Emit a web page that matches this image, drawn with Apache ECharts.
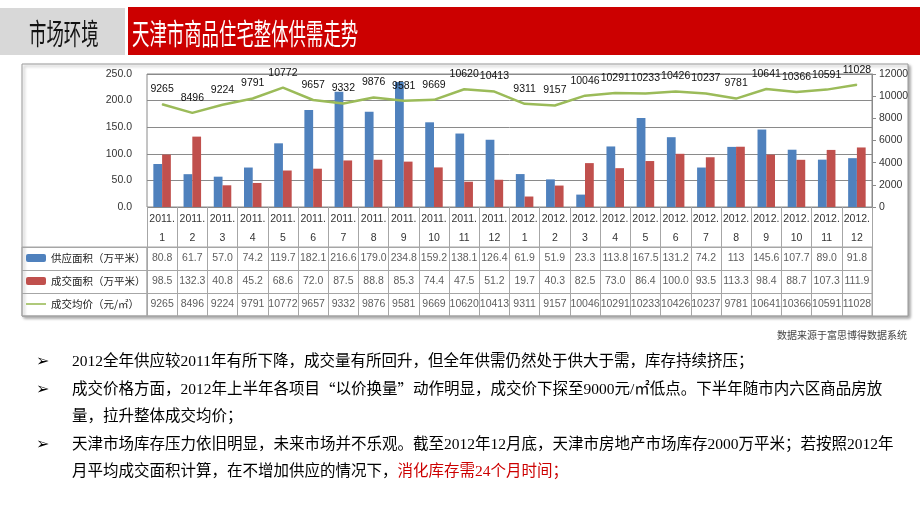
<!DOCTYPE html>
<html><head><meta charset="utf-8">
<script src="https://cdn.jsdelivr.net/npm/echarts@6/dist/echarts.min.js"></script>
<style>html,body{margin:0;padding:0;background:#fff}#c{width:920px;height:518px}</style>
</head><body><div id="c"></div>
<script>
// ---- data ----
const categories = ['2011.\n1','2011.\n2','2011.\n3','2011.\n4','2011.\n5','2011.\n6','2011.\n7','2011.\n8','2011.\n9','2011.\n10','2011.\n11','2011.\n12',
  '2012.\n1','2012.\n2','2012.\n3','2012.\n4','2012.\n5','2012.\n6','2012.\n7','2012.\n8','2012.\n9','2012.\n10','2012.\n11','2012.\n12'];
const supplyArea = ['80.8','61.7','57.0','74.2','119.7','182.1','216.6','179.0','234.8','159.2','138.1','126.4',
  '61.9','51.9','23.3','113.8','167.5','131.2','74.2','113','145.6','107.7','89.0','91.8'];
const dealArea = ['98.5','132.3','40.8','45.2','68.6','72.0','87.5','88.8','85.3','74.4','47.5','51.2',
  '19.7','40.3','82.5','73.0','86.4','100.0','93.5','113.3','98.4','88.7','107.3','111.9'];
const avgPrice = [9265,8496,9224,9791,10772,9657,9332,9876,9581,9669,10620,10413,
  9311,9157,10046,10291,10233,10426,10237,9781,10641,10366,10591,11028];
const seriesNames = ['供应面积（万平米）','成交面积（万平米）','成交均价（元/㎡）'];
const leftAxisMax = 250, leftAxisStep = 50;
const rightAxisMax = 12000, rightAxisStep = 2000;

// table cells built from the arrays
const tableRows = [supplyArea, dealArea, avgPrice];
const tableCells = [];
tableRows.forEach((row, r) => row.forEach((v, i) => tableCells.push([i, r, String(v)])));

const SANS = "'Liberation Sans',Arial,sans-serif";
const CJK = "'Noto Sans CJK SC','Liberation Sans',sans-serif";
const BODY = "'Liberation Serif','Noto Sans CJK SC',serif";
const GRIDC = '#8a8a8a', TABC = '#a6a6a6';
const FS = 10.5;

const chart = echarts.init(document.getElementById('c'));
const richBody = {
  r:{fill:'#cc0000', fontSize:15.5, fontFamily:BODY},
  q:{fill:'#000', fontSize:15.5, fontFamily:CJK}
};
const bodyLine = (text, y) => ({type:'text', x:72, y:y, silent:true,
  style:{text:text, fontSize:15.5, fontFamily:BODY, fill:'#000', textVerticalAlign:'middle', rich:richBody}});
const bullet = y => ({type:'text', x:36, y:y, silent:true,
  style:{text:'➢', fontSize:16, fontFamily:"'DejaVu Sans'", fill:'#000', textVerticalAlign:'middle'}});

chart.setOption({
  animation:false,
  textStyle:{fontFamily:SANS},
  legend:{orient:'vertical', left:26, top:251, itemGap:9, itemWidth:20, itemHeight:8, padding:0,
    selectedMode:false,
    data:[{name:seriesNames[0]}, {name:seriesNames[1]}, {name:seriesNames[2], icon:'path://M0,0H20V1.6H0Z'}],
    textStyle:{fontFamily:CJK, fontSize:10.5, color:'#222', lineHeight:14}},
  grid:[
    {left:147, right:48, top:74, height:133, show:true, borderColor:GRIDC, borderWidth:1},
    {left:147, right:48, top:247, height:69, show:true, borderColor:TABC, borderWidth:1},
    {left:22, width:125, top:247, height:69, show:true, borderColor:TABC, borderWidth:1}
  ],
  xAxis:[
    {type:'category', gridIndex:0, data:categories, axisLine:{show:false},
      axisTick:{show:true, length:40, interval:0, lineStyle:{color:TABC}},
      axisLabel:{interval:0, margin:3, fontSize:FS, lineHeight:19, color:'#333'}},
    {type:'category', gridIndex:1, data:categories, axisLine:{show:false}, axisTick:{show:false},
      axisLabel:{show:false}, splitLine:{show:true, interval:0, lineStyle:{color:TABC}}},
    {type:'value', gridIndex:2, show:false}
  ],
  yAxis:[
    {type:'value', gridIndex:0, min:0, max:leftAxisMax, interval:leftAxisStep,
      axisLabel:{formatter:v=>v.toFixed(1), margin:15, fontSize:FS, color:'#333'},
      splitLine:{lineStyle:{color:GRIDC}}, axisLine:{show:false}, axisTick:{show:false}},
    {type:'value', gridIndex:0, position:'right', min:0, max:rightAxisMax, interval:rightAxisStep,
      axisLine:{show:true, lineStyle:{color:GRIDC}}, axisTick:{show:true, length:4, lineStyle:{color:GRIDC}},
      axisLabel:{margin:7, fontSize:FS, color:'#333', formatter:v=>String(v)}, splitLine:{show:false}},
    {type:'category', gridIndex:1, data:['r0','r1','r2'], inverse:true, axisLine:{show:false},
      axisTick:{show:false}, axisLabel:{show:false}, splitLine:{show:true, lineStyle:{color:TABC}}},
    {type:'category', gridIndex:2, data:seriesNames, inverse:true, axisLine:{show:false},
      axisTick:{show:false}, axisLabel:{show:false}, splitLine:{show:true, lineStyle:{color:TABC}}}
  ],
  series:[
    {name:seriesNames[0], type:'bar', xAxisIndex:0, yAxisIndex:0, data:supplyArea.map(Number),
      barGap:'0%', barCategoryGap:'42%', itemStyle:{color:'#4F81BD'}},
    {name:seriesNames[1], type:'bar', xAxisIndex:0, yAxisIndex:0, data:dealArea.map(Number),
      itemStyle:{color:'#C0504D'}},
    {name:seriesNames[2], type:'line', xAxisIndex:0, yAxisIndex:1, data:avgPrice, symbol:'circle', symbolSize:1,
      lineStyle:{color:'#9BBB59', width:2.5}, itemStyle:{color:'#9BBB59'}, z:3,
      label:{show:true, position:'top', distance:9, fontSize:FS, color:'#111'}},
    {type:'scatter', xAxisIndex:1, yAxisIndex:2, data:tableCells, symbolSize:1, silent:true,
      itemStyle:{color:'transparent'}, label:{show:true, position:'inside', formatter:p=>p.value[2], fontSize:FS, color:'#333'}}
  ],
  graphic:[
    {type:'rect', z:-10, silent:true, shape:{x:22, y:64, width:886, height:252},
      style:{fill:'#fff', stroke:'#9a9a9a', lineWidth:1, shadowBlur:3, shadowColor:'rgba(0,0,0,0.35)', shadowOffsetX:2, shadowOffsetY:2}},
    {type:'rect', silent:true, shape:{x:0, y:8, width:125, height:47}, style:{fill:'#d8d8d8'}},
    {type:'rect', silent:true, shape:{x:128, y:7, width:792, height:48}, style:{fill:'#cc0000'}},
    {type:'text', x:29, y:34, scaleX:0.6, silent:true,
      style:{text:'市场环境', fontSize:29, fontFamily:CJK, fill:'#111', textVerticalAlign:'middle'}},
    {type:'text', x:132, y:34, scaleX:0.6, silent:true,
      style:{text:'天津市商品住宅整体供需走势', fontSize:29, fontFamily:CJK, fill:'#fff', textVerticalAlign:'middle'}},
    {type:'text', x:907, y:335, silent:true,
      style:{text:'数据来源于富思博得数据系统', fontSize:10, fontFamily:CJK, fill:'#444', textAlign:'right', textVerticalAlign:'middle'}},
    bullet(362), bullet(390), bullet(445),
    bodyLine('2012全年供应较2011年有所下降，成交量有所回升，但全年供需仍然处于供大于需，库存持续挤压；', 362),
    bodyLine('成交价格方面，2012年上半年各项目{q|“}以价换量{q|”}动作明显，成交价下探至9000元/㎡低点。下半年随市内六区商品房放', 390),
    bodyLine('量，拉升整体成交均价；', 417),
    bodyLine('天津市场库存压力依旧明显，未来市场并不乐观。截至2012年12月底，天津市房地产市场库存2000万平米；若按照2012年', 445),
    bodyLine('月平均成交面积计算，在不增加供应的情况下，{r|消化库存需24个月时间；}', 472)
  ]
});
</script></body></html>
